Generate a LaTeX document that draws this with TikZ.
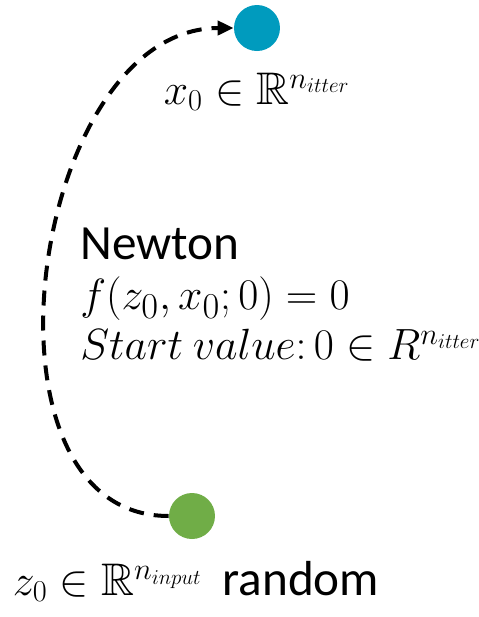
\documentclass[tikz,border=0pt]{standalone}
\usepackage{fontspec}
\usepackage{amsmath}
\usepackage{amssymb}
\setmainfont{Carlito}
\usetikzlibrary{arrows.meta,positioning}
\definecolor{dotblue}{RGB}{0,155,190}
\definecolor{dotgreen}{RGB}{112,173,71}

\begin{document}
\begin{tikzpicture}[font=\fontsize{28}{28.45}\selectfont, node distance=0.35cm,
dot/.style={circle, minimum size=0.92cm, inner sep=0pt},
arrow/.style={-{Triangle[length=0.32cm,width=0.28cm]}, line width=0.08cm, dash pattern=on 0.3cm off 0.2cm}]
\useasboundingbox (0,0) rectangle (9.58,-12.34);
\node[dot, fill=dotblue] (x0) at (5.14,-0.56) {};
\node[dot, fill=dotgreen] (z0) at (3.84,-10.32) {};
\node[below=0.3cm of x0, font=\fontsize{26}{28}\selectfont] (xlab) {$x_0 \in \mathbb{R}^{n_{itter}}$};
\node[anchor=north, font=\fontsize{26}{28}\selectfont] (zlab) at (3.92,-11.1) {$z_0 \in \mathbb{R}^{n_{input}}$\hspace{0.4cm}{\fontsize{28}{28}\selectfont random}};
\node[anchor=west, align=left, inner sep=0pt] (newton) at (1.6,-5.9) {Newton\\[0pt]$f(z_0,x_0;0)=0$\\[0pt]{\fontsize{25}{28}\selectfont$Start\ value{:}\,0\in R^{n_{itter}}$}};
\draw[arrow] (z0.west) .. controls +(-4.08,0) and +(-4.08,0) .. (x0.west);
\end{tikzpicture}
\end{document}
